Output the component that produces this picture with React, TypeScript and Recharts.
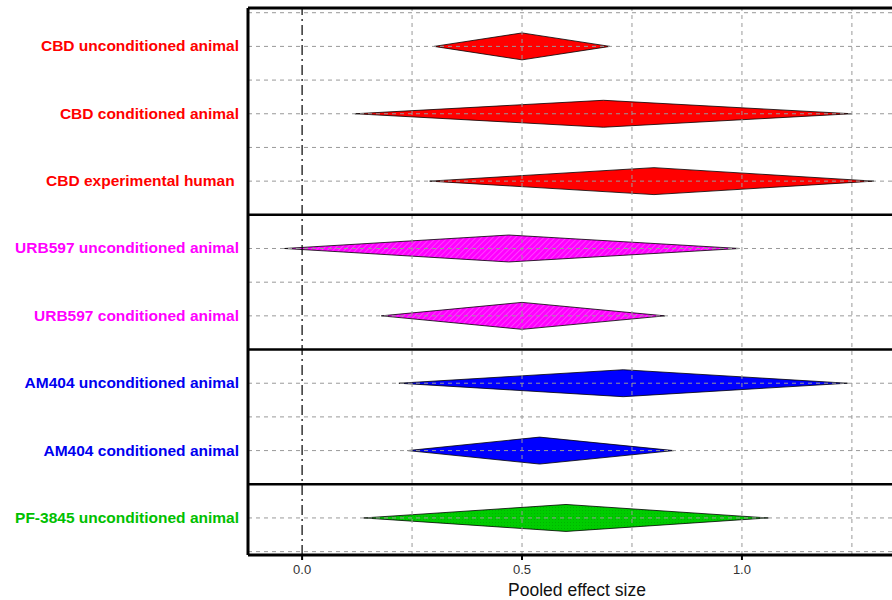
import React from 'react'
import {
  ComposedChart,
  Area,
  XAxis,
  YAxis,
  ReferenceLine
} from 'recharts'

// rows from top to bottom
const labels = [
  'CBD unconditioned animal',
  'CBD conditioned animal',
  'CBD experimental human ',
  'URB597 unconditioned animal',
  'URB597 conditioned animal',
  'AM404 unconditioned animal',
  'AM404 conditioned animal',
  'PF-3845 unconditioned animal'
]
const rows = [1, 2, 3, 4, 5, 6, 7, 8]
const lower = [0.30, 0.12, 0.29, -0.04, 0.18, 0.22, 0.24, 0.14]
const pooled = [0.50, 0.685, 0.80, 0.47, 0.50, 0.73, 0.54, 0.60]
const upper = [0.70, 1.25, 1.30, 0.995, 0.825, 1.24, 0.845, 1.06]

const xTicks = [0, 0.5, 1]
const xGrid = [0.25, 0.5, 0.75, 1, 1.25]
const yGrid = [0.5, 1, 1.5, 2, 2.5, 3, 4, 4.5, 5, 6, 6.5, 7, 8, 8.5]
const groupLines = [3.5, 5.5, 7.5]

const labelColors = ['#ff0000', '#ff0000', '#ff0000', '#ff00ff', '#ff00ff', '#0000f0', '#0000f0', '#00c000']
const fills = ['#ff0000', '#ff0000', '#ff0000', 'url(#hatchMagenta)', 'url(#hatchMagenta)', '#0000ff', '#0000ff', 'url(#gridGreen)']

const HALF = 0.2
const Y_DOMAIN: [number, number] = [0.43, 8.55]
const X_DOMAIN: [number, number] = [-0.123, 1.373]
const FONT = '"Liberation Sans", Arial, sans-serif'

// each diamond is a range area: zero width at the CI ends, full height at the estimate
const diamonds = rows.map((r, i) => [
  { x: lower[i], band: [r, r] },
  { x: pooled[i], band: [r - HALF, r + HALF] },
  { x: upper[i], band: [r, r] }
])

const RowLabel = ({ x, y, payload }: any) => {
  const i = rows.indexOf(payload.value)
  return (
    <text x={x - 1} y={y} dy={5} textAnchor="end" fill={labelColors[i]} fontSize={15.5}
      fontWeight="bold" fontFamily={FONT} style={{ whiteSpace: 'pre' }}>
      {labels[i]}
    </text>
  )
}

export default function App() {
  return (
    <div style={{ position: 'absolute', left: 0, top: 0, width: 892, height: 600, overflow: 'hidden', background: '#fff' }}>
      <ComposedChart width={910} height={600} margin={{ top: 8, right: 4, bottom: 0, left: 0 }}>
        <defs>
          <pattern id="hatchMagenta" width="4" height="4" patternUnits="userSpaceOnUse" patternTransform="rotate(45)">
            <rect width="4" height="4" fill="#ff00ff" />
            <line x1="0" y1="0" x2="0" y2="4" stroke="#ff66ff" strokeWidth="1.2" />
          </pattern>
          <pattern id="gridGreen" width="3" height="3" patternUnits="userSpaceOnUse">
            <rect width="3" height="3" fill="#00cc00" />
            <rect width="1" height="1" fill="#00b400" />
          </pattern>
        </defs>
        <XAxis
          type="number"
          dataKey="x"
          domain={X_DOMAIN}
          allowDataOverflow
          ticks={xTicks}
          tickFormatter={(v: number) => v.toFixed(1)}
          tick={{ fill: '#333', fontSize: 13, fontFamily: FONT }}
          tickLine={{ stroke: '#000', strokeWidth: 2 }}
          tickSize={5}
          tickMargin={5}
          axisLine={{ stroke: '#000', strokeWidth: 3 }}
          height={45}
          label={{ value: 'Pooled effect size', position: 'insideBottom', offset: 4, fill: '#111', fontSize: 17.5, fontFamily: FONT }}
        />
        <YAxis
          type="number"
          domain={Y_DOMAIN}
          allowDataOverflow
          reversed
          ticks={rows}
          interval={0}
          tick={<RowLabel />}
          tickLine={false}
          axisLine={{ stroke: '#000', strokeWidth: 3 }}
          width={248}
        />
        {xGrid.map((v) => (
          <ReferenceLine key={'gx' + v} x={v} stroke="#999" strokeDasharray="4 4" />
        ))}
        {yGrid.map((v) => (
          <ReferenceLine key={'gy' + v} y={v} stroke="#999" strokeDasharray="4 4" />
        ))}
        <ReferenceLine x={0} stroke="#000" strokeWidth={1.2} strokeDasharray="10 4 2 4" />
        {groupLines.map((v) => (
          <ReferenceLine key={'g' + v} y={v} stroke="#000" strokeWidth={2.5} />
        ))}
        <ReferenceLine y={Y_DOMAIN[0]} stroke="#000" strokeWidth={3} />
        {diamonds.map((d, i) => (
          <Area
            key={labels[i]}
            data={d}
            dataKey="band"
            type="linear"
            stroke="#000"
            strokeWidth={0.8}
            fill={fills[i]}
            fillOpacity={1}
            dot={false}
            activeDot={false}
            isAnimationActive={false}
          />
        ))}
      </ComposedChart>
    </div>
  )
}
